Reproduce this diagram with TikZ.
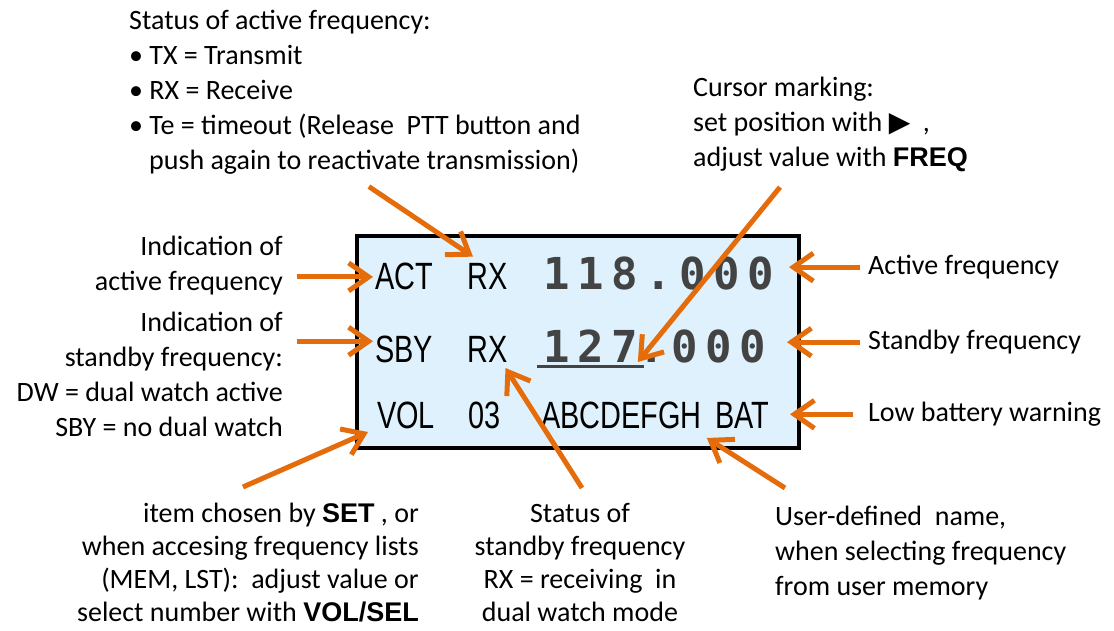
\documentclass[tikz,border=0pt]{standalone}
\usepackage{fontspec}
\setmainfont{Carlito}
\newfontfamily\lcdfont[FakeStretch=0.76]{Liberation Sans}
\newfontfamily\digitfont[LetterSpace=17]{DejaVu Sans Mono}
\newfontfamily\symfont{DejaVu Sans}
\newfontfamily\keyfont{Liberation Sans}
\usepackage{tikz}
\usetikzlibrary{arrows.meta,positioning}
\usepackage{xcolor}
\definecolor{lcdblue}{HTML}{DEF1FC}
\definecolor{arroworange}{HTML}{E46C0A}
\definecolor{digitgray}{HTML}{434343}
\newcommand{\keyname}[1]{{\keyfont\fontsize{27}{34}\selectfont\bfseries #1}}

\begin{document}
\begin{tikzpicture}[
        x=1pt, y=-1pt,
        every node/.style={inner sep=0pt, font=\fontsize{28}{35}\selectfont},
        note/.style={draw=arroworange, line width=5pt, -{Straight Barb[length=20pt,width=28pt]}},
        lcd/.style={font=\fontsize{38}{40}\selectfont\lcdfont, anchor=base west},
        digits/.style={font=\fontsize{44}{46}\selectfont\digitfont\bfseries, text=digitgray, anchor=base west}
    ]
    \useasboundingbox (0,0) rectangle (1114,631);

    % Display
    \node[draw, fill=lcdblue, line width=4pt, minimum width=442pt, minimum height=212pt] (display) at (578,342) {};
    \node[lcd] (act) at (375,290) {ACT};
    \node[lcd] (actrx) at (467,290) {RX};
    \node[digits] (actfreq) at (543,290) {118.000};
    \node[lcd] (sby) at (375,362) {SBY};
    \node[lcd] (sbyrx) at (467,362) {RX};
    \node[digits] (sbymhz) at (543,362) {127};
    \node[digits, base right=0pt of sbymhz] (sbykhz) {.000};
    \node[lcd] (vol) at (377,428) {VOL};
    \node[lcd] (volval) at (468,428) {03};
    \node[lcd] (name) at (541,428) {ABCDEFGH};
    \node[lcd] (bat) at (715,428) {BAT};
    \draw[digitgray, line width=3pt] ([xshift=-6pt,yshift=-4pt]sbymhz.base west) -- ([xshift=6pt,yshift=-4pt]sbymhz.base east);

    % Labels
    \node[anchor=north west, align=left] (actstatus) at (129,10) {Status of active frequency:\\
        \textbullet\ TX = Transmit\\
        \textbullet\ RX = Receive\\
        \textbullet\ Te = timeout (Release\ \ PTT button and\\
        \hspace*{20pt}push again to reactivate transmission)};
    \node[anchor=north west, align=left] (cursor) at (693,77) {Cursor marking:\\
        set position with {\symfont\fontsize{28}{35}\selectfont ▶}\ \ ,\\
        adjust value with \keyname{FREQ}};
    \node[anchor=north east, align=right] (actind) at (283,236) {Indication of\\ active frequency};
    \node[anchor=north east, align=right] (sbyind) at (283,312) {Indication of\\ standby frequency:\\ DW = dual watch active\\ SBY = no dual watch};
    \node[anchor=north west] (activelbl) at (868,255) {Active frequency};
    \node[anchor=north west] (standbylbl) at (868,330) {Standby frequency};
    \node[anchor=north west] (batlbl) at (868,402) {Low battery warning};
    \node[anchor=north east, align=right, font=\fontsize{28}{33}\selectfont] (itemlbl) at (419,503) {item chosen by \keyname{SET} , or\\
        when accesing frequency lists\\
        (MEM, LST):\ \ adjust value or\\
        select number with \keyname{VOL/SEL}};
    \node[anchor=north, align=center, font=\fontsize{28}{33}\selectfont] (sbystatus) at (580,503) {Status of\\ standby frequency\\ RX = receiving\ \ in\\ dual watch mode};
    \node[anchor=north west, align=left] (userlbl) at (775,506) {User-defined\ \ name,\\ when selecting frequency\\ from user memory};

    % Arrows
    \draw[note] ([xshift=14pt,yshift=-12pt]actstatus.south) -- ([xshift=6pt,yshift=7pt]actrx.north west);
    \draw[note] ([xshift=87pt,yshift=-15pt]cursor.south west) -- ([xshift=0pt,yshift=0pt]sbymhz.base east);
    \draw[note] ([xshift=14pt]actind.east |- act.west) -- ([xshift=-2pt]act.west);
    \draw[note] ([xshift=14pt,yshift=-6pt]sbyind.east |- sby.north west) -- ([xshift=-2pt,yshift=-6pt]sby.north west);
    \draw[note] ([xshift=-5pt,yshift=16pt]itemlbl.north) -- ([xshift=-9pt,yshift=-4pt]vol.base west);
    \draw[note] ([xshift=2pt,yshift=15pt]sbystatus.north) -- ([xshift=-2pt,yshift=-6pt]sbyrx.base east);
    \draw[note] ([xshift=-8pt]activelbl.west) -- ([xshift=-12pt]display.east |- activelbl.west);
    \draw[note] ([xshift=-8pt]standbylbl.west) -- ([xshift=-14pt]display.east |- standbylbl.west);
    \draw[note] ([xshift=-15pt]batlbl.west) -- ([xshift=-11pt]display.east |- batlbl.west);
    \draw[note] ([xshift=10pt,yshift=18pt]userlbl.north west) -- ([xshift=5pt,yshift=-10pt]name.base east);

\end{tikzpicture}
\end{document}
